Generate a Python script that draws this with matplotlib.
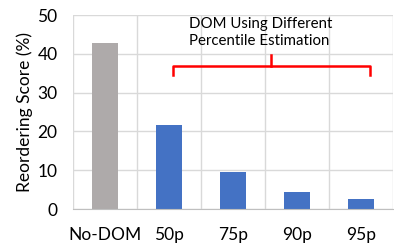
import matplotlib
matplotlib.use("Agg")
import matplotlib.pyplot as plt

categories = ["No-DOM", "50p", "75p", "90p", "95p"]
scores = [42.8, 21.7, 9.6, 4.5, 2.5]
bar_colors = ["#AEAAAA", "#4472C4", "#4472C4", "#4472C4", "#4472C4"]
y_ticks = [0, 10, 20, 30, 40, 50]
group_label = "DOM Using Different\nPercentile Estimation"

plt.rcParams["font.family"] = ["Lato", "DejaVu Sans"]

fig = plt.figure(figsize=(3.94, 2.46), dpi=100)
ax = fig.add_axes([0.185, 0.150, 0.813, 0.789])

x = list(range(len(categories)))
ax.bar(x, scores, width=0.41, color=bar_colors, zorder=3)

ax.set_xlim(-0.5, len(categories) - 0.5)
ax.set_ylim(0, 50)
ax.set_yticks(y_ticks)
ax.set_xticks(x)
ax.set_xticklabels(categories, fontsize=12.5)
ax.tick_params(axis="y", labelsize=12.5, length=0, pad=11)
ax.tick_params(axis="x", length=0, pad=13)
ax.set_xticks([i - 0.5 for i in range(len(categories) + 1)], minor=True)
ax.tick_params(axis="x", which="minor", length=0)

ax.grid(axis="y", color="#D9D9D9", linewidth=1, zorder=0)
ax.grid(axis="x", which="minor", color="#D9D9D9", linewidth=1, zorder=0)
ax.grid(axis="x", which="major", visible=False)

for side in ["top", "right", "left"]:
    ax.spines[side].set_visible(False)
ax.spines["bottom"].set_color("#BFBFBF")
ax.spines["bottom"].set_zorder(4)

ax.set_ylabel("Reordering Score (%)", fontsize=12.5, labelpad=3)

# curly bracket over the DOM bars
bx0, bx1, bmid = 1.055, 4.13, 2.59
by_end, by_line, by_tip = 34.5, 36.9, 39.7
ax.plot([bx0, bx0, bx1, bx1], [by_end, by_line, by_line, by_end],
        color="#FF0000", linewidth=1.8, zorder=5, clip_on=False)
ax.plot([bmid, bmid], [by_line, by_tip], color="#FF0000", linewidth=1.8,
        zorder=5, clip_on=False)
ax.text(1.31, 49.6, group_label, fontsize=10.8, ha="left", va="top",
        linespacing=1.35, zorder=6)

fig.savefig("out.png", dpi=100)
